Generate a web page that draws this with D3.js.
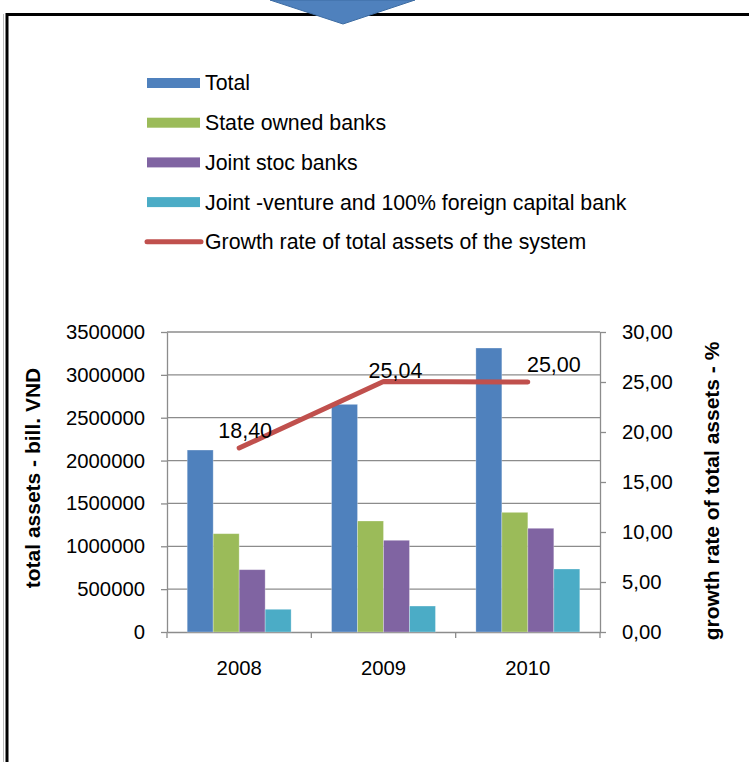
<!DOCTYPE html>
<html>
<head>
<meta charset="utf-8">
<script src="https://cdn.jsdelivr.net/npm/d3@7"></script>
<style>
	body { margin: 0; background: #fff; }
	svg { display: block; font-family: "Liberation Sans", Arial, sans-serif; }
</style>
</head>
<body>
<svg id="chart"></svg>
<script>
const years = ["2008", "2009", "2010"];
const seriesNames = [
	"Total",
	"State owned banks",
	"Joint stoc banks",
	"Joint -venture and 100% foreign capital bank"
];
const total = [2123000, 2656000, 3313000];
const stateOwned = [1147000, 1295000, 1396000];
const jointStock = [727000, 1070000, 1210000];
const jointVenture = [265000, 303000, 735000];
const growthRate = [18.40, 25.04, 25.00];
const growthLabels = ["18,40", "25,04", "25,00"];
const lineName = "Growth rate of total assets of the system";
const leftTicks = [0, 500000, 1000000, 1500000, 2000000, 2500000, 3000000, 3500000];
const rightTicks = [0, 5, 10, 15, 20, 25, 30];

const colors = ["#4f81bd", "#9bbb59", "#8064a2", "#4bacc6"];
const lineColor = "#c0504d";
const gridColor = "#8c8c8c";

const seriesValues = [total, stateOwned, jointStock, jointVenture];

const width = 749;
const height = 762;
const plot = {left: 167, right: 600, top: 332, bottom: 632};

const svg = d3.select("#chart")
.attr("width", width)
.attr("height", height);

svg.append("rect")
.attr("width", width)
.attr("height", height)
.attr("fill", "#fff");

// frame of the surrounding box
svg.append("path")
.attr("d", `M7,${height + 5} V14.5 H${width + 5}`)
.attr("fill", "none")
.attr("stroke", "#000")
.attr("stroke-width", 3);

svg.append("line")
.attr("x1", 3.5).attr("x2", 3.5)
.attr("y1", 14).attr("y2", height)
.attr("stroke", "#bbb")
.attr("stroke-width", 1);

// arrow tip coming from above
svg.append("path")
.attr("d", "M270,0 L415,0 L343,24 Z")
.attr("fill", "#4f81bd")
.attr("stroke", "#3d6ca3")
.attr("stroke-width", 1);

const x = d3.scaleBand()
.domain(years)
.range([plot.left, plot.right]);

const gap = x.bandwidth() * 0.14;
const x1 = d3.scaleBand()
.domain(d3.range(seriesNames.length))
.range([gap, x.bandwidth() - gap]);

const y = d3.scaleLinear()
.domain([0, 3500000])
.range([plot.bottom, plot.top]);

const y2 = d3.scaleLinear()
.domain([0, 30])
.range([plot.bottom, plot.top]);

// gridlines
svg.append("g")
.selectAll("line")
.data(leftTicks.slice(1))
.join("line")
.attr("x1", plot.left)
.attr("x2", plot.right)
.attr("y1", d => y(d))
.attr("y2", d => y(d))
.attr("stroke", gridColor)
.attr("stroke-width", 1.3);

const styleAxis = g => {
	g.select(".domain").attr("stroke", gridColor).attr("stroke-width", 1.3);
	g.selectAll(".tick line").attr("stroke", gridColor).attr("stroke-width", 1.3);
	g.selectAll("text")
	.attr("font-size", 20.3)
	.attr("fill", "#000")
	.attr("font-family", "Liberation Sans, Arial, sans-serif");
};

svg.append("g")
.attr("transform", `translate(${plot.left},0)`)
.call(d3.axisLeft(y).tickValues(leftTicks).tickSize(6).tickPadding(16).tickSizeOuter(0).tickFormat(d3.format("d")))
.call(styleAxis);

svg.append("g")
.attr("transform", `translate(${plot.right},0)`)
.call(d3.axisRight(y2).tickValues(rightTicks).tickSize(6).tickPadding(16).tickSizeOuter(0)
	.tickFormat(d => d3.format(".2f")(d).replace(".", ",")))
.call(styleAxis);

svg.append("g")
.attr("transform", `translate(0,${plot.bottom})`)
.call(d3.axisBottom(x).tickSize(0).tickPadding(29).tickSizeOuter(0))
.call(styleAxis);

// category separators on the x axis
svg.append("g")
.selectAll("line")
.data(years.map(d => x(d)).concat([x(years[years.length - 1]) + x.bandwidth()]))
.join("line")
.attr("x1", d => d)
.attr("x2", d => d)
.attr("y1", plot.bottom)
.attr("y2", plot.bottom + 6)
.attr("stroke", gridColor)
.attr("stroke-width", 1.3);

// bars
svg.append("g")
.selectAll("g")
.data(seriesValues)
.join("g")
.attr("fill", (d, i) => colors[i])
.each(function(vals, si) {
	d3.select(this)
	.selectAll("rect")
	.data(vals)
	.join("rect")
	.attr("x", (d, i) => x(years[i]) + x1(si))
	.attr("y", d => y(d))
	.attr("width", x1.bandwidth())
	.attr("height", d => y(0) - y(d))
	.attr("stroke", "rgba(255,255,255,0.35)")
	.attr("stroke-width", 0.8);
});

// growth line
const line = d3.line()
.x((d, i) => x(years[i]) + x.bandwidth() / 2)
.y(d => y2(d));

svg.append("path")
.datum(growthRate)
.attr("fill", "none")
.attr("stroke", lineColor)
.attr("stroke-width", 5)
.attr("stroke-linejoin", "round")
.attr("stroke-linecap", "round")
.attr("d", line);

const labelDx = [6, 12, 26];
const labelDy = [-10, -4, -10];

svg.append("g")
.selectAll("text")
.data(growthRate)
.join("text")
.attr("x", (d, i) => x(years[i]) + x.bandwidth() / 2 + labelDx[i])
.attr("y", d => y2(d))
.attr("dy", (d, i) => labelDy[i])
.attr("text-anchor", "middle")
.attr("font-size", 21.5)
.attr("fill", "#000")
.text((d, i) => growthLabels[i]);

// axis titles
svg.append("text")
.attr("transform", "translate(40,478) rotate(-90)")
.attr("text-anchor", "middle")
.attr("font-size", 21)
.attr("font-weight", "bold")
.text("total assets - bill. VND");

svg.append("text")
.attr("transform", "translate(719,491) rotate(-90)")
.attr("text-anchor", "middle")
.attr("font-size", 21)
.attr("font-weight", "bold")
.text("growth rate of total assets - %");

// legend
const legendItems = seriesNames.map((name, i) => ({name, color: colors[i], kind: "bar"}))
.concat([{name: lineName, color: lineColor, kind: "line"}]);

const legend = svg.append("g")
.selectAll("g")
.data(legendItems)
.join("g")
.attr("transform", (d, i) => `translate(147,${83 + i * 39.7})`);

legend.filter(d => d.kind === "bar")
.append("rect")
.attr("x", 0)
.attr("y", -5)
.attr("width", 53)
.attr("height", 10)
.attr("fill", d => d.color);

legend.filter(d => d.kind === "line")
.append("line")
.attr("x1", 0)
.attr("x2", 54)
.attr("stroke", d => d.color)
.attr("stroke-width", 5)
.attr("stroke-linecap", "round");

legend.append("text")
.attr("x", 58)
.attr("dy", "0.35em")
.attr("font-size", 21.3)
.attr("fill", "#000")
.text(d => d.name);
</script>
</body>
</html>
